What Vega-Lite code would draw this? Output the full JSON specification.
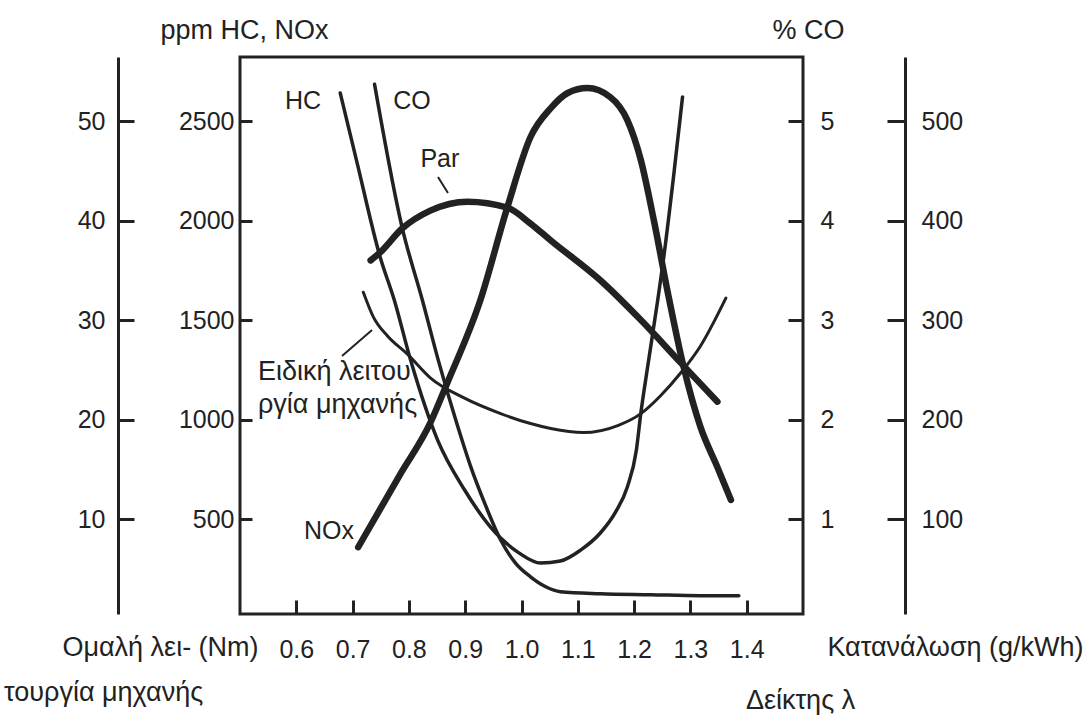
{
  "$schema": "https://vega.github.io/schema/vega-lite/v6.json",
  "width": 563,
  "height": 557,
  "autosize": {"type": "none"},
  "padding": {"left": 240, "top": 57, "right": 288, "bottom": 101},
  "background": "white",
  "title": {
    "text": "τουργία μηχανής",
    "orient": "bottom",
    "anchor": "start",
    "frame": "group",
    "dx": -236,
    "dy": -12,
    "offset": 0,
    "font": "Liberation Sans",
    "fontSize": 27,
    "fontWeight": "normal",
    "color": "#222",
    "baseline": "alphabetic"
  },
  "config": {
    "view": {"stroke": "#222", "strokeWidth": 3},
    "font": "Liberation Sans",
    "axis": {
      "grid": false,
      "labelFont": "Liberation Sans",
      "labelFontSize": 25,
      "labelColor": "#222",
      "labelOverlap": false,
      "labelFlush": false,
      "tickColor": "#222",
      "tickWidth": 3,
      "domainColor": "#222",
      "domainWidth": 3,
      "titleFont": "Liberation Sans",
      "titleFontSize": 27,
      "titleFontWeight": "normal",
      "titleColor": "#222",
      "titleAngle": 0,
      "titleAlign": "center",
      "titleBaseline": "alphabetic"
    },
    "line": {"color": "#222", "interpolate": "monotone", "strokeCap": "round", "strokeJoin": "round"},
    "text": {"color": "#222", "font": "Liberation Sans", "fontSize": 25},
    "rule": {"color": "#222"}
  },
  "datasets": {
    "curves": [
      {"curve": "HC", "lam": 0.678, "val": 2641},
      {"curve": "HC", "lam": 0.708, "val": 2290},
      {"curve": "HC", "lam": 0.749, "val": 1816},
      {"curve": "HC", "lam": 0.774, "val": 1601},
      {"curve": "HC", "lam": 0.803, "val": 1299},
      {"curve": "HC", "lam": 0.851, "val": 897},
      {"curve": "HC", "lam": 0.899, "val": 646},
      {"curve": "HC", "lam": 0.945, "val": 460},
      {"curve": "HC", "lam": 0.996, "val": 329},
      {"curve": "HC", "lam": 1.034, "val": 279},
      {"curve": "HC", "lam": 1.069, "val": 289},
      {"curve": "HC", "lam": 1.105, "val": 344},
      {"curve": "HC", "lam": 1.14, "val": 430},
      {"curve": "HC", "lam": 1.167, "val": 535},
      {"curve": "HC", "lam": 1.188, "val": 661},
      {"curve": "HC", "lam": 1.204, "val": 846},
      {"curve": "HC", "lam": 1.212, "val": 1033},
      {"curve": "HC", "lam": 1.224, "val": 1264},
      {"curve": "HC", "lam": 1.242, "val": 1601},
      {"curve": "HC", "lam": 1.252, "val": 1801},
      {"curve": "HC", "lam": 1.27, "val": 2219},
      {"curve": "HC", "lam": 1.286, "val": 2621},

      {"curve": "NOx", "lam": 0.71, "val": 359},
      {"curve": "NOx", "lam": 0.784, "val": 722},
      {"curve": "NOx", "lam": 0.838, "val": 983},
      {"curve": "NOx", "lam": 0.868, "val": 1183},
      {"curve": "NOx", "lam": 0.927, "val": 1601},
      {"curve": "NOx", "lam": 0.975, "val": 2068},
      {"curve": "NOx", "lam": 1.016, "val": 2420},
      {"curve": "NOx", "lam": 1.052, "val": 2565},
      {"curve": "NOx", "lam": 1.082, "val": 2641},
      {"curve": "NOx", "lam": 1.117, "val": 2666},
      {"curve": "NOx", "lam": 1.158, "val": 2620},
      {"curve": "NOx", "lam": 1.188, "val": 2505},
      {"curve": "NOx", "lam": 1.212, "val": 2304},
      {"curve": "NOx", "lam": 1.235, "val": 2003},
      {"curve": "NOx", "lam": 1.26, "val": 1636},
      {"curve": "NOx", "lam": 1.288, "val": 1264},
      {"curve": "NOx", "lam": 1.318, "val": 962},
      {"curve": "NOx", "lam": 1.348, "val": 761},
      {"curve": "NOx", "lam": 1.372, "val": 596},

      {"curve": "CO", "lam": 0.739, "val": 5.37},
      {"curve": "CO", "lam": 0.788, "val": 3.93},
      {"curve": "CO", "lam": 0.824, "val": 3.2},
      {"curve": "CO", "lam": 0.852, "val": 2.6},
      {"curve": "CO", "lam": 0.883, "val": 2.0},
      {"curve": "CO", "lam": 0.909, "val": 1.54},
      {"curve": "CO", "lam": 0.936, "val": 1.14},
      {"curve": "CO", "lam": 0.963, "val": 0.79},
      {"curve": "CO", "lam": 0.989, "val": 0.56},
      {"curve": "CO", "lam": 1.016, "val": 0.42},
      {"curve": "CO", "lam": 1.043, "val": 0.32},
      {"curve": "CO", "lam": 1.069, "val": 0.27},
      {"curve": "CO", "lam": 1.14, "val": 0.25},
      {"curve": "CO", "lam": 1.229, "val": 0.24},
      {"curve": "CO", "lam": 1.318, "val": 0.23},
      {"curve": "CO", "lam": 1.386, "val": 0.23},

      {"curve": "Par", "lam": 0.732, "val": 36.0},
      {"curve": "Par", "lam": 0.749, "val": 36.8},
      {"curve": "Par", "lam": 0.788, "val": 39.2},
      {"curve": "Par", "lam": 0.838, "val": 41.0},
      {"curve": "Par", "lam": 0.904, "val": 41.9},
      {"curve": "Par", "lam": 0.975, "val": 41.3},
      {"curve": "Par", "lam": 1.016, "val": 39.7},
      {"curve": "Par", "lam": 1.052, "val": 38.0},
      {"curve": "Par", "lam": 1.14, "val": 34.0},
      {"curve": "Par", "lam": 1.212, "val": 30.0},
      {"curve": "Par", "lam": 1.283, "val": 25.7},
      {"curve": "Par", "lam": 1.348, "val": 21.8},

      {"curve": "Κατανάλωση", "lam": 0.719, "val": 328},
      {"curve": "Κατανάλωση", "lam": 0.737, "val": 303},
      {"curve": "Κατανάλωση", "lam": 0.762, "val": 284},
      {"curve": "Κατανάλωση", "lam": 0.797, "val": 266},
      {"curve": "Κατανάλωση", "lam": 0.838, "val": 242},
      {"curve": "Κατανάλωση", "lam": 0.897, "val": 222},
      {"curve": "Κατανάλωση", "lam": 0.963, "val": 206},
      {"curve": "Κατανάλωση", "lam": 1.016, "val": 196},
      {"curve": "Κατανάλωση", "lam": 1.052, "val": 191},
      {"curve": "Κατανάλωση", "lam": 1.11, "val": 187},
      {"curve": "Κατανάλωση", "lam": 1.171, "val": 194},
      {"curve": "Κατανάλωση", "lam": 1.212, "val": 206},
      {"curve": "Κατανάλωση", "lam": 1.247, "val": 224},
      {"curve": "Κατανάλωση", "lam": 1.283, "val": 247},
      {"curve": "Κατανάλωση", "lam": 1.318, "val": 274},
      {"curve": "Κατανάλωση", "lam": 1.363, "val": 322}
    ],
    "tags": [
      {"label": "HC", "lam": 0.612, "val": 2601},
      {"label": "CO", "lam": 0.8055, "val": 2601},
      {"label": "Par", "lam": 0.855, "val": 2309},
      {"label": "NOx", "lam": 0.658, "val": 440}
    ],
    "caption": [
      {"label": "Ειδική λειτου", "lam": 0.532, "val": 1239},
      {"label": "ργία μηχανής", "lam": 0.532, "val": 1073}
    ],
    "leaders": [
      {"lam": 0.8517, "val": 2219, "lam2": 0.8694, "val2": 2139},
      {"lam": 0.6812, "val": 1319, "lam2": 0.7345, "val2": 1450}
    ]
  },
  "data": {"name": "curves"},
  "encoding": {
    "x": {
      "field": "lam",
      "type": "quantitative",
      "scale": {"domain": [0.5, 1.5], "nice": false, "zero": false},
      "axis": {
        "values": [0.6, 0.7, 0.8, 0.9, 1.0, 1.1, 1.2, 1.3, 1.4],
        "format": ".1f",
        "domain": false,
        "tickSize": -14,
        "labelPadding": 57,
        "labelBaseline": "alphabetic",
        "title": "Δείκτης λ",
        "titleX": 560,
        "titleY": 94
      }
    }
  },
  "layer": [
    {
      "encoding": {
        "y": {
          "field": "val",
          "type": "quantitative",
          "scale": {"domain": [23, 2822], "nice": false, "zero": false},
          "axis": {
            "orient": "left",
            "values": [500, 1000, 1500, 2000, 2500],
            "format": "d",
            "domain": false,
            "tickSize": -12,
            "labelPadding": 18,
            "title": "ppm HC, NOx",
            "titleX": 4,
            "titleY": -19
          }
        }
      },
      "layer": [
        {
          "transform": [{"filter": "datum.curve === 'HC'"}],
          "mark": {"type": "line", "strokeWidth": 3.5}
        },
        {
          "transform": [{"filter": "datum.curve === 'NOx'"}],
          "mark": {"type": "line", "strokeWidth": 6.5}
        },
        {
          "data": {"name": "tags"},
          "mark": {"type": "text"},
          "encoding": {"text": {"field": "label"}}
        },
        {
          "data": {"name": "caption"},
          "mark": {"type": "text", "align": "left", "fontSize": 27},
          "encoding": {"text": {"field": "label"}}
        },
        {
          "data": {"name": "leaders"},
          "mark": {"type": "rule", "strokeWidth": 2},
          "encoding": {
            "x2": {"field": "lam2"},
            "y2": {"field": "val2"}
          }
        }
      ]
    },
    {
      "transform": [{"filter": "datum.curve === 'CO'"}],
      "mark": {"type": "line", "strokeWidth": 3.5},
      "encoding": {
        "y": {
          "field": "val",
          "type": "quantitative",
          "scale": {"domain": [0.046, 5.644], "nice": false, "zero": false},
          "axis": {
            "orient": "right",
            "values": [1, 2, 3, 4, 5],
            "format": "d",
            "domain": false,
            "tickSize": -15,
            "labelPadding": 32,
            "title": "% CO",
            "titleX": 5,
            "titleY": -19
          }
        }
      }
    },
    {
      "transform": [{"filter": "datum.curve === 'Par'"}],
      "mark": {"type": "line", "strokeWidth": 6.5},
      "encoding": {
        "y": {
          "field": "val",
          "type": "quantitative",
          "scale": {"domain": [0.46, 56.44], "nice": false, "zero": false},
          "axis": {
            "orient": "left",
            "offset": 122,
            "values": [10, 20, 30, 40, 50],
            "format": "d",
            "domain": true,
            "tickSize": -16,
            "labelPadding": 29,
            "title": "Ομαλή λει- (Nm)",
            "titleX": 42,
            "titleY": 598
          }
        }
      }
    },
    {
      "transform": [{"filter": "datum.curve === 'Κατανάλωση'"}],
      "mark": {"type": "line", "strokeWidth": 3},
      "encoding": {
        "y": {
          "field": "val",
          "type": "quantitative",
          "scale": {"domain": [4.6, 564.4], "nice": false, "zero": false},
          "axis": {
            "orient": "right",
            "offset": 102,
            "values": [100, 200, 300, 400, 500],
            "format": "d",
            "domain": true,
            "tickSize": -18,
            "labelPadding": 34,
            "title": "Κατανάλωση (g/kWh)",
            "titleX": 50,
            "titleY": 598
          }
        }
      }
    }
  ],
  "resolve": {"scale": {"y": "independent"}, "axis": {"y": "independent"}}
}
